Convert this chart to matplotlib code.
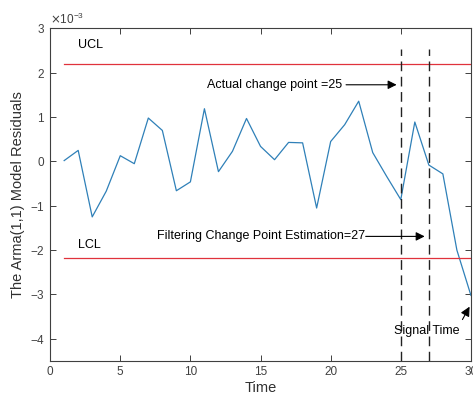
import numpy as np
import matplotlib
matplotlib.use("Agg")
import matplotlib.pyplot as plt
from matplotlib.ticker import ScalarFormatter

plt.rcParams["font.family"] = ["Liberation Sans", "DejaVu Sans"]
plt.rcParams["axes.unicode_minus"] = False

# residuals (x1e-3)
time = list(range(1, 31))
resid = [0.02, 0.25, -1.25, -0.67, 0.13, -0.05, 0.98, 0.70, -0.66, -0.46,
         1.19, -0.23, 0.23, 0.97, 0.34, 0.04, 0.43, 0.42, -1.05, 0.45,
         0.83, 1.36, 0.20, -0.34, -0.86, 0.89, -0.08, -0.28, -2.00, -3.02]
resid = [r * 1e-3 for r in resid]
UCL, LCL = 2.2e-3, -2.18e-3
actual_cp, est_cp = 25, 27

fig = plt.figure(figsize=(4.73, 4.01), dpi=100)
ax = fig.add_axes([0.106, 0.0998, 0.8896, 0.8292])

ax.plot(time, resid, color="#2f80b8", lw=0.9)
ax.plot([1, 30], [UCL, UCL], color="#e0323c", lw=0.9)
ax.plot([1, 30], [LCL, LCL], color="#e0323c", lw=0.9)
for cp in (actual_cp, est_cp):
    ax.plot([cp, cp], [-4.5e-3, 2.54e-3], color="#222222", lw=1.0,
            ls=(0, (7, 4)))

ax.text(2.0, 2.55e-3, "UCL", fontsize=9)
ax.text(2.0, -1.95e-3, "LCL", fontsize=9)
ax.annotate("", xy=(24.9, 1.73e-3), xytext=(20.9, 1.73e-3),
            arrowprops=dict(arrowstyle="-|>", color="black", lw=0.8,
                            mutation_scale=13))
ax.text(11.2, 1.73e-3, "Actual change point =25", fontsize=9,
        va="center")
ax.annotate("", xy=(26.9, -1.69e-3), xytext=(22.3, -1.69e-3),
            arrowprops=dict(arrowstyle="-|>", color="black", lw=0.8,
                            mutation_scale=13))
ax.text(7.6, -1.69e-3, "Filtering Change Point Estimation=27",
        fontsize=9, va="center")
ax.annotate("", xy=(30.0, -3.22e-3), xytext=(29.3, -3.62e-3),
            arrowprops=dict(arrowstyle="-|>", color="black", lw=0.8,
                            mutation_scale=14))
ax.text(26.85, -3.83e-3, "Signal Time", fontsize=9, ha="center",
        va="center")

ax.set_xlim(0, 30)
ax.set_ylim(-4.5e-3, 3e-3)
ax.set_xticks(range(0, 31, 5))
ax.set_yticks(np.arange(-4, 4) * 1e-3)
fmt = ScalarFormatter(useMathText=True)
fmt.set_powerlimits((-3, -3))
ax.yaxis.set_major_formatter(fmt)
ax.yaxis.get_offset_text().set_fontsize(8.5)
ax.yaxis.get_offset_text().set_color("#404040")
ax.tick_params(direction="in", top=True, right=True, labelsize=8.5,
               colors="#404040", length=4, width=0.7)
for s in ax.spines.values():
    s.set_color("#404040")
    s.set_linewidth(0.8)
ax.set_xlabel("Time", fontsize=10.5, color="#303030", labelpad=2)
ax.set_ylabel("The Arma(1,1) Model Residuals", fontsize=10.5,
              color="#303030", labelpad=4)

fig.savefig("out.png", dpi=100)
